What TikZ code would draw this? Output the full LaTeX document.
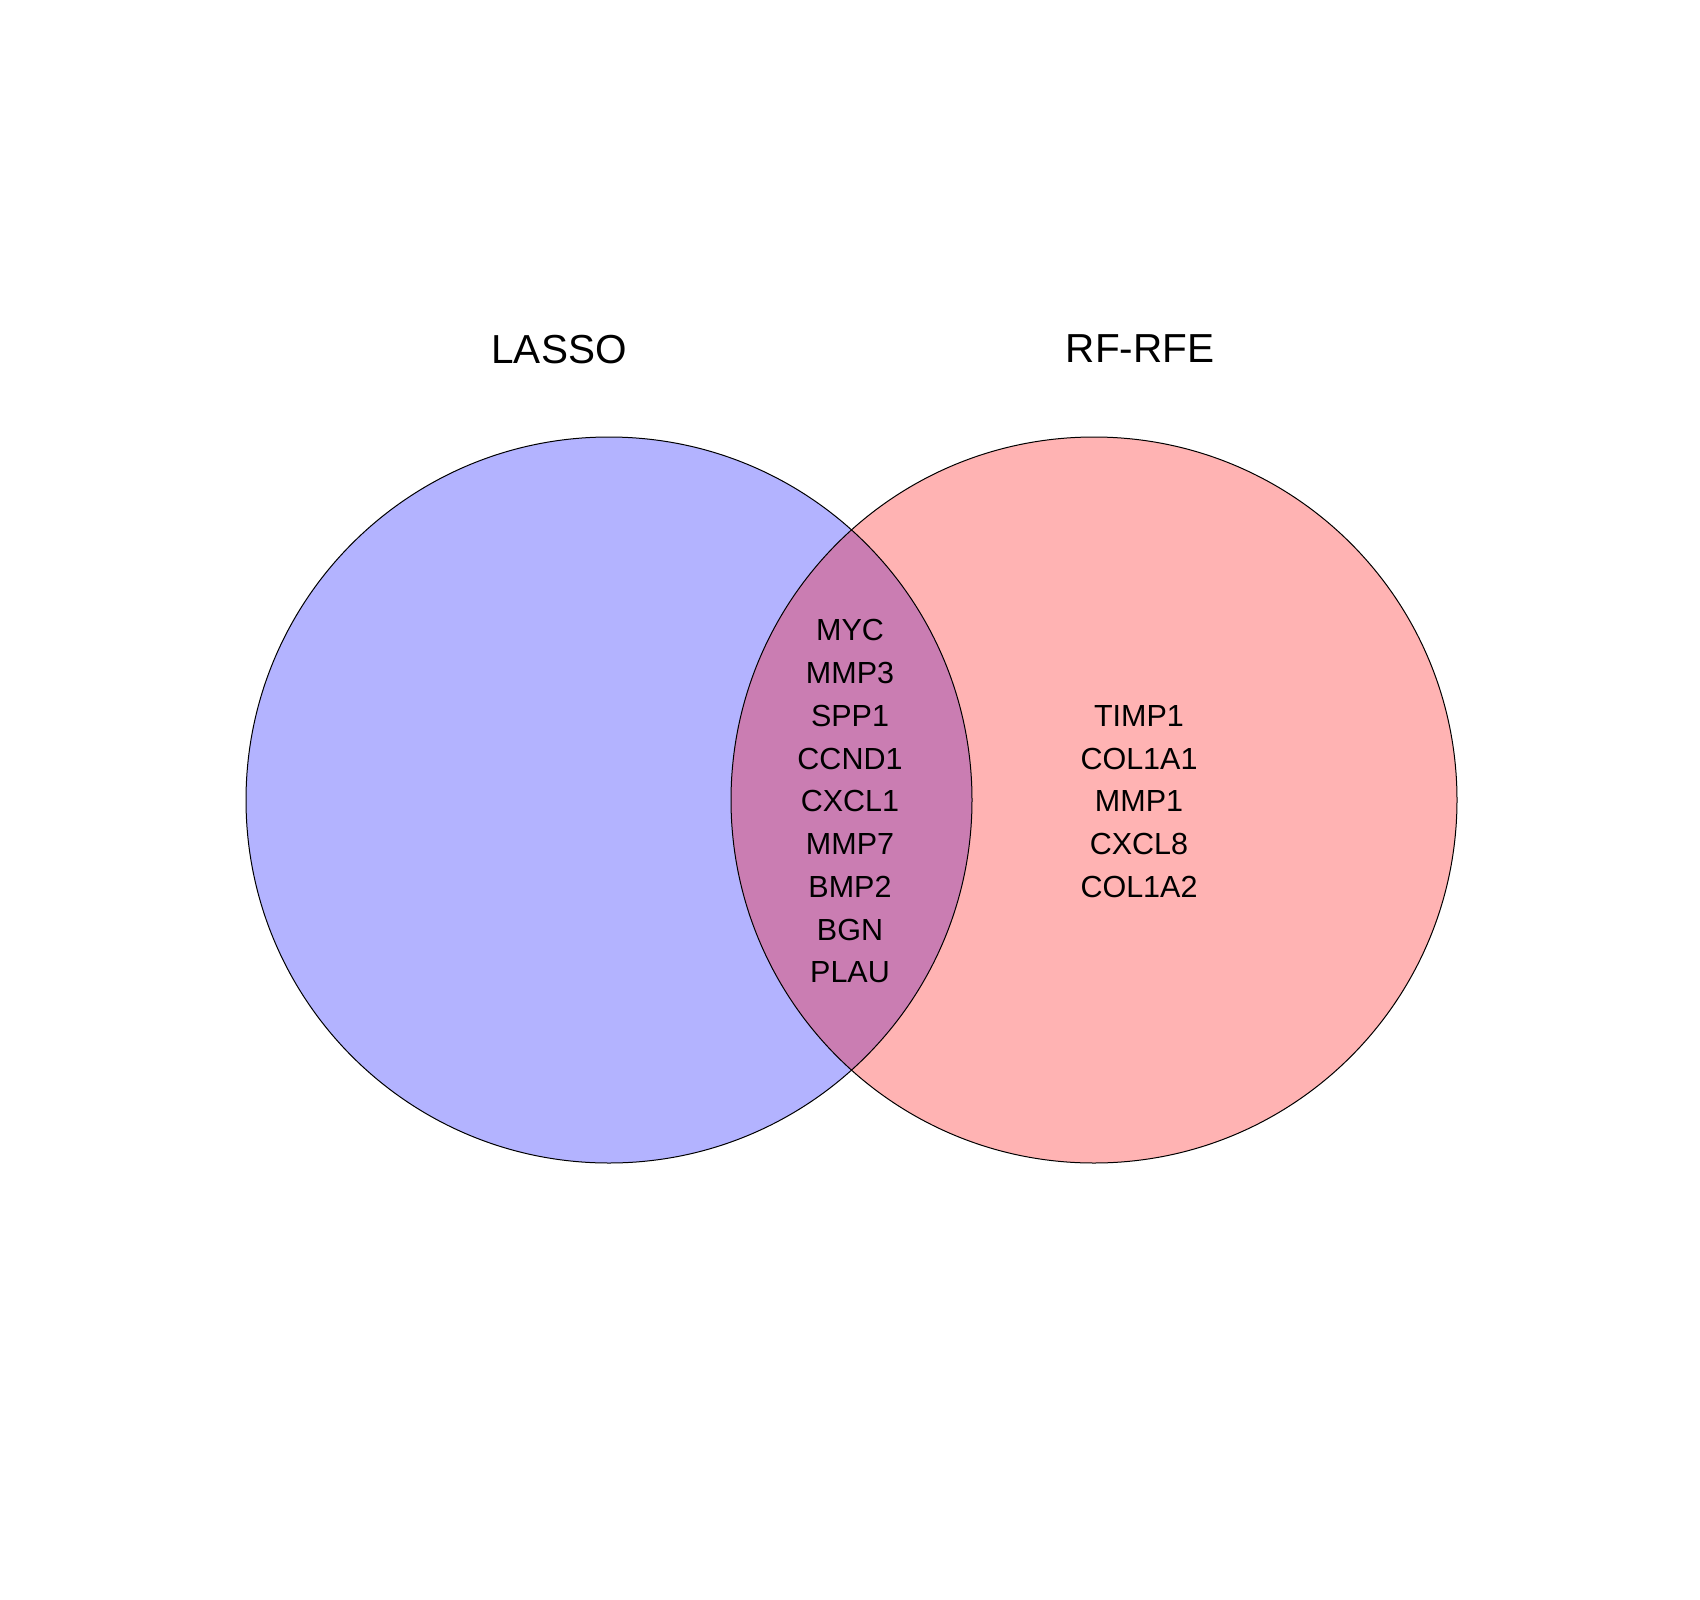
\documentclass[tikz,border=0pt]{standalone}
\usepackage{fontspec}
\setmainfont{Liberation Sans}
\definecolor{lassoblue}{RGB}{179,179,255}
\definecolor{rfered}{RGB}{255,179,179}
\definecolor{overlap}{RGB}{202,125,178}
\begin{document}
\begin{tikzpicture}[x=1pt,y=-1pt,
  gene/.style={font=\fontsize{30.5}{30.5}\selectfont, anchor=center, text depth=0pt, inner sep=0pt},
  setlabel/.style={font=\fontsize{40.5}{40.5}\selectfont, anchor=center, text depth=0pt, inner sep=0pt},
  ring/.style={draw=black, line width=1pt}]
\useasboundingbox (0,0) rectangle (1700,1600);
\fill[white] (0,0) rectangle (1700,1600);
\coordinate (cl) at (609,800);
\coordinate (cr) at (1094,800);
\fill[lassoblue] (cl) circle (363);
\fill[rfered] (cr) circle (363);
\begin{scope}
  \clip (cl) circle (363);
  \fill[overlap] (cr) circle (363);
\end{scope}
\draw[ring] (cl) circle (363);
\draw[ring] (cr) circle (363);
\node[setlabel] (lasso) at (559,349) {LASSO};
\node[setlabel] (rfrfe) at (1140,349) {RF-RFE};
\foreach \g [count=\i from 0] in {MYC,MMP3,SPP1,CCND1,CXCL1,MMP7,BMP2,BGN,PLAU}
  \node[gene] (mid\i) at (850,630+\i*42.8) {\g};
\foreach \g [count=\i from 2] in {TIMP1,COL1A1,MMP1,CXCL8,COL1A2}
  \node[gene] (right\i) at (1139,630+\i*42.8) {\g};
\end{tikzpicture}
\end{document}
